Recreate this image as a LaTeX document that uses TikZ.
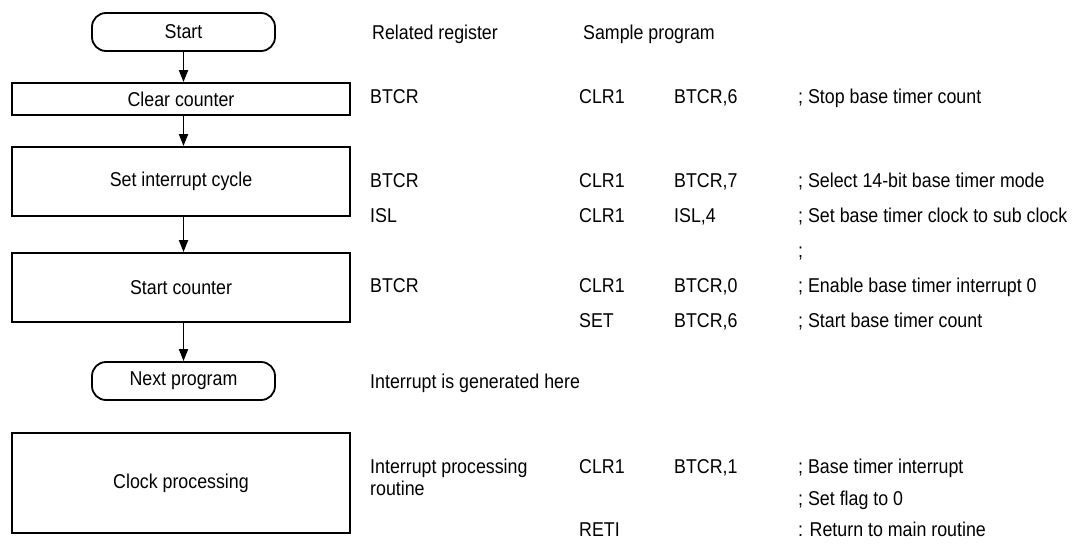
\documentclass[tikz,border=0pt]{standalone}
\usepackage{fontspec}
\setmainfont{Liberation Sans}[FakeStretch=0.89]
\usetikzlibrary{arrows.meta}
\begin{document}
\begin{tikzpicture}[x=1pt,y=-1pt,
  every node/.style={font=\fontsize{20}{23}\selectfont},
  box/.style={draw,line width=1.8pt,minimum width=338pt,inner sep=0pt},
  term/.style={draw,line width=1.8pt,rounded corners=14pt,minimum width=183pt,minimum height=38pt,inner sep=0pt},
  txt/.style={anchor=west,inner sep=0pt,text height=14pt,text depth=4pt},
  flow/.style={line width=1.8pt,-{Triangle[length=12pt,width=9pt]}}]
\useasboundingbox (0,0) rectangle (1083,548);
% flowchart
\node[term] (start) at (183.5,32) {Start};
\node[box,minimum height=32pt] (clr) at (181,99) {Clear counter};
\node[box,minimum height=69pt] (set) at (181,181.5) {Set interrupt cycle};
\node[box,minimum height=69pt] (stc) at (181,287.5) {Start counter};
\node[term] (next) at (183.5,381) {Next program};
\node[box,minimum height=100pt] (clk) at (181,483) {Clock processing};
\draw[flow] (start.south) -- (start.south |- clr.north);
\draw[flow] (start.south |- clr.south) -- (start.south |- set.north);
\draw[flow] (start.south |- set.south) -- (start.south |- stc.north);
\draw[flow] (start.south |- stc.south) -- (next.north);
% header
\node[txt] (h1) at (372,35) {Related register};
\node[txt] (h2) at (583,35) {Sample program};
% rows
\node[txt] (r1a) at (370,99) {BTCR};
\node[txt] (r1b) at (579,99) {CLR1};
\node[txt] (r1c) at (674,99) {BTCR,6};
\node[txt] (r1d) at (798,99) {; Stop base timer count};
\node[txt] (r2a) at (370,182) {BTCR};
\node[txt] (r2b) at (579,182) {CLR1};
\node[txt] (r2c) at (674,182) {BTCR,7};
\node[txt] (r2d) at (798,182) {; Select 14-bit base timer mode};
\node[txt] (r3a) at (370,217) {ISL};
\node[txt] (r3b) at (579,217) {CLR1};
\node[txt] (r3c) at (674,217) {ISL,4};
\node[txt] (r3d) at (798,217) {; Set base timer clock to sub clock};
\node[txt] (r4d) at (798,252) {;};
\node[txt] (r5a) at (370,287) {BTCR};
\node[txt] (r5b) at (579,287) {CLR1};
\node[txt] (r5c) at (674,287) {BTCR,0};
\node[txt] (r5d) at (798,287) {; Enable base timer interrupt 0};
\node[txt] (r6b) at (579,322) {SET};
\node[txt] (r6c) at (674,322) {BTCR,6};
\node[txt] (r6d) at (798,322) {; Start base timer count};
\node[txt] (gen) at (370,383) {Interrupt is generated here};
\node[txt] (r7a) at (370,468) {Interrupt processing};
\node[txt] (r7a2) at (370,490) {routine};
\node[txt] (r7b) at (579,468) {CLR1};
\node[txt] (r7c) at (674,468) {BTCR,1};
\node[txt] (r7d) at (798,468) {; Base timer interrupt};
\node[txt] (r8d) at (798,500) {; Set flag to 0};
\node[txt] (r9b) at (579,531) {RETI};
\node[txt] (r9d) at (798,531) {: Return to main routine};
\end{tikzpicture}
\end{document}
